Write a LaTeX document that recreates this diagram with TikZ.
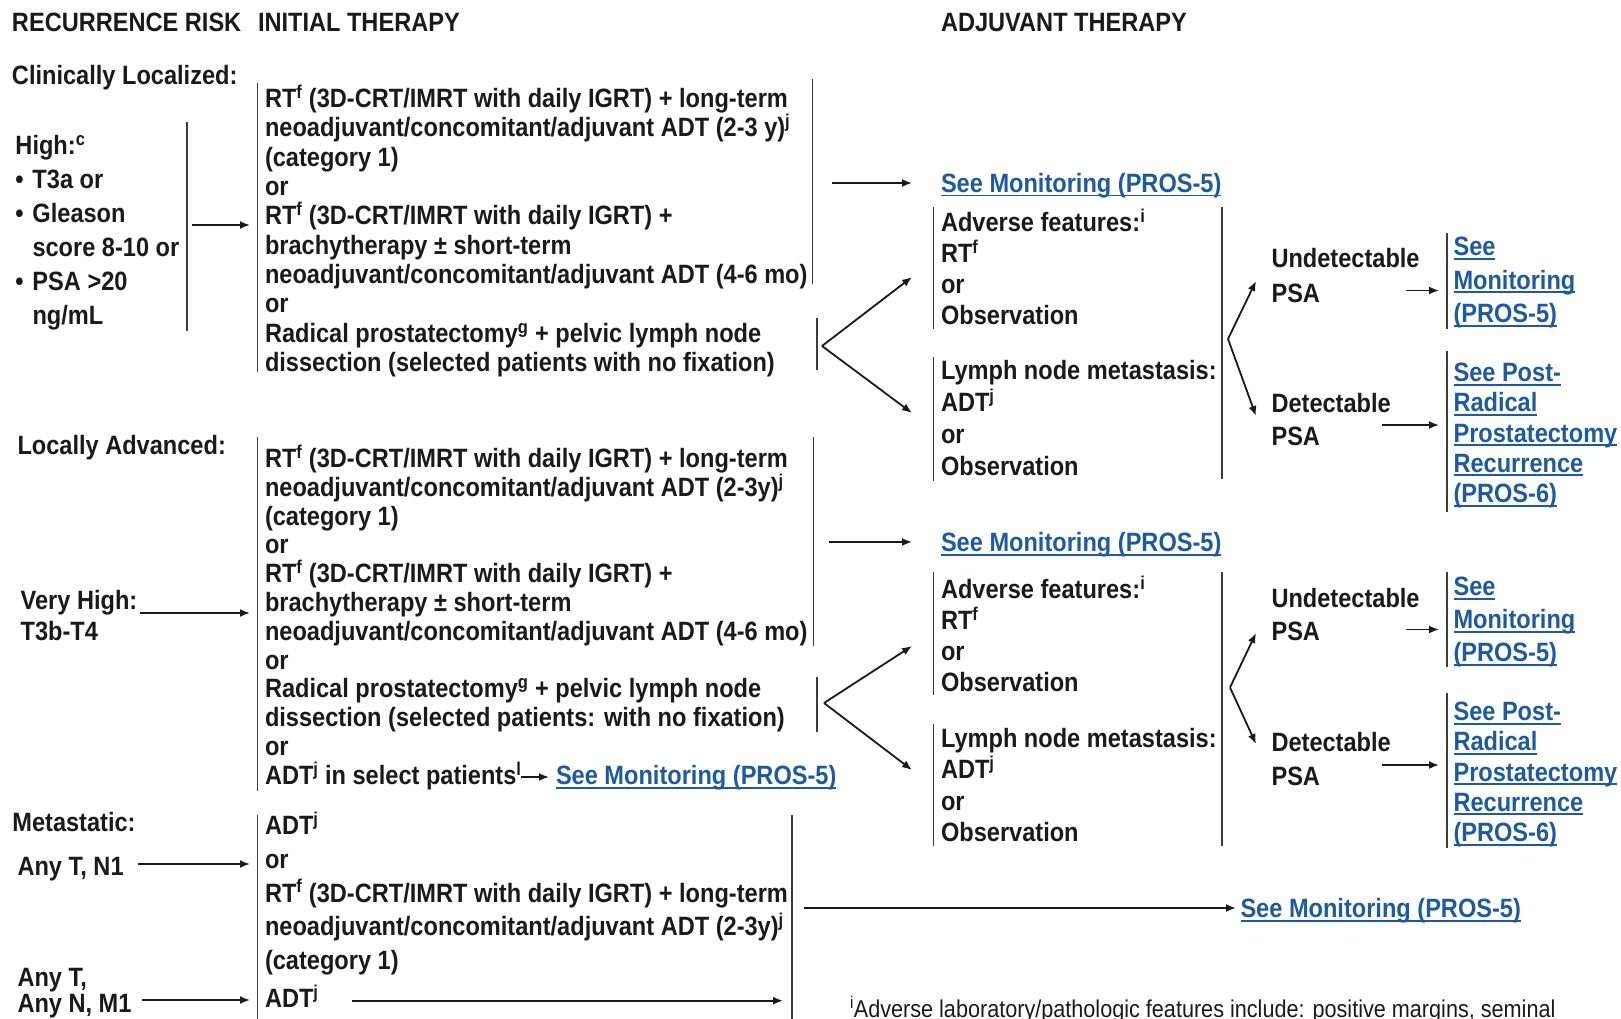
\documentclass[tikz,border=0pt]{standalone}
\usepackage{fontspec}
\setmainfont{Liberation Sans}[FakeStretch=0.89]
\usetikzlibrary{arrows.meta}
\definecolor{ink}{RGB}{26,26,26}
\definecolor{linkblue}{RGB}{30,90,160}
\newsavebox\lkbox
\newcommand\lk[1]{\textcolor{linkblue}{\sbox\lkbox{#1}\rlap{\rule[-4pt]{\wd\lkbox}{1.8pt}}\usebox\lkbox}}
\newcommand\ml[2]{\vtop{\let\\\cr\baselineskip=#1\relax\lineskiplimit=-100pt\lineskip=0pt\halign{##\hfil\cr#2\crcr}}}
\newcommand\bul{\hbox to 17pt{\textbullet\hfil}}
\begin{document}
\begin{tikzpicture}[x=1pt,y=-1pt,
  txt/.style={anchor=base west, inner sep=0pt, outer sep=0pt, yshift=-1pt, text=ink, font=\fontsize{26.5}{29.3}\selectfont\bfseries},
  hdr/.style={txt},
  note/.style={txt, font=\fontsize{24.3}{26}\selectfont\mdseries},
  bar/.style={draw=ink!85, line width=1.4pt},
  arr/.style={draw=ink, line width=1.8pt, -{Latex[length=10pt,width=8pt]}}]
\useasboundingbox (0,0) rectangle (1621,1019);
\clip (0,0) rectangle (1621,1019);
\fill[white] (0,0) rectangle (1621,1019);

% headers
\node[hdr] (h1) at (12,31) {RECURRENCE RISK};
\node[hdr] (h2) at (258,31) {INITIAL THERAPY};
\node[hdr] (h3) at (941,31) {ADJUVANT THERAPY};

% left column
\node[txt] (cl) at (12,84) {Clinically Localized:};
\node[txt] (high) at (15.5,153.5) {\ml{34pt}{High:\textsuperscript{c}\\\bul T3a or\\\bul Gleason\\\hspace*{17pt}score 8-10 or\\\bul PSA >20\\\hspace*{17pt}ng/mL}};
\node[txt] (la) at (17.5,453) {Locally Advanced:};
\node[txt] (vh) at (20.7,608.5) {\ml{31pt}{Very High:\\T3b-T4}};
\node[txt] (met) at (12.4,830.5) {Metastatic:};
\node[txt] (n1) at (17.5,874.5) {Any T, N1};
\node[txt] (m1) at (17.5,985.5) {\ml{26pt}{Any T,\\Any N, M1}};

% initial therapy
\node[txt] (t1) at (265,106.5) {\ml{29.33pt}{RT\textsuperscript{f} (3D-CRT/IMRT with daily IGRT) + long-term\\neoadjuvant/concomitant/adjuvant ADT (2-3 y)\textsuperscript{j}\\(category 1)\\or\\RT\textsuperscript{f} (3D-CRT/IMRT with daily IGRT) +\\brachytherapy ± short-term\\neoadjuvant/concomitant/adjuvant ADT (4-6 mo)\\or\\Radical prostatectomy\textsuperscript{g} + pelvic lymph node\\dissection (selected patients with no fixation)}};
\node[txt] (t2) at (265,466.5) {\ml{28.8pt}{RT\textsuperscript{f} (3D-CRT/IMRT with daily IGRT) + long-term\\neoadjuvant/concomitant/adjuvant ADT (2-3y)\textsuperscript{j}\\(category 1)\\or\\RT\textsuperscript{f} (3D-CRT/IMRT with daily IGRT) +\\brachytherapy ± short-term\\neoadjuvant/concomitant/adjuvant ADT (4-6 mo)\\or\\Radical prostatectomy\textsuperscript{g} + pelvic lymph node\\dissection (selected patients: with no fixation)\\or}};
\node[txt] (t2b) at (265,783.5) {ADT\textsuperscript{j} in select patients\textsuperscript{l}};
\node[txt] (lk2) at (556,783.5) {\lk{See Monitoring (PROS-5)}};
\node[txt] (t3) at (265,833.5) {\ml{33.75pt}{ADT\textsuperscript{j}\\or\\RT\textsuperscript{f} (3D-CRT/IMRT with daily IGRT) + long-term\\neoadjuvant/concomitant/adjuvant ADT (2-3y)\textsuperscript{j}\\(category 1)}};
\node[txt] (t4) at (265,1006.5) {ADT\textsuperscript{j}};

% adjuvant set 1
\node[txt] (mon1) at (941,191.5) {\lk{See Monitoring (PROS-5)}};
\node[txt] (adv1) at (941,230.5) {\ml{31pt}{Adverse features:\textsuperscript{i}\\RT\textsuperscript{f}\\or\\Observation}};
\node[txt] (lym1) at (941,378.5) {\ml{32pt}{Lymph node metastasis:\\ADT\textsuperscript{j}\\or\\Observation}};
\node[txt] (und1) at (1271.5,266.5) {\ml{34.5pt}{Undetectable\\PSA}};
\node[txt] (det1) at (1271.5,411.5) {\ml{33pt}{Detectable\\PSA}};
\node[txt] (smon1) at (1453.5,254.5) {\ml{33.5pt}{\lk{See}\\\lk{Monitoring}\\\lk{(PROS-5)}}};
\node[txt] (post1) at (1453.5,380.5) {\ml{30.25pt}{\lk{See Post-}\\\lk{Radical}\\\lk{Prostatectomy}\\\lk{Recurrence}\\\lk{(PROS-6)}}};

% adjuvant set 2
\node[txt] (mon2) at (941,550.5) {\lk{See Monitoring (PROS-5)}};
\node[txt] (adv2) at (941,597.5) {\ml{31pt}{Adverse features:\textsuperscript{i}\\RT\textsuperscript{f}\\or\\Observation}};
\node[txt] (lym2) at (941,746.5) {\ml{31.3pt}{Lymph node metastasis:\\ADT\textsuperscript{j}\\or\\Observation}};
\node[txt] (und2) at (1271.5,606) {\ml{33pt}{Undetectable\\PSA}};
\node[txt] (det2) at (1271.5,750.5) {\ml{34pt}{Detectable\\PSA}};
\node[txt] (smon2) at (1453.5,594.5) {\ml{33pt}{\lk{See}\\\lk{Monitoring}\\\lk{(PROS-5)}}};
\node[txt] (post2) at (1453.5,719.5) {\ml{30.25pt}{\lk{See Post-}\\\lk{Radical}\\\lk{Prostatectomy}\\\lk{Recurrence}\\\lk{(PROS-6)}}};

\node[txt] (mon3) at (1240.5,916.5) {\lk{See Monitoring (PROS-5)}};
\node[note] (fn) at (850,1016.5) {\textsuperscript{i}Adverse laboratory/pathologic features include: positive margins, seminal};

% bars
\draw[bar] (187,122) -- (187,331);
\draw[bar] (257.4,83) -- (257.4,372);
\draw[bar] (812.5,79) -- (812.5,284);
\draw[bar] (817,318) -- (817,370);
\draw[bar] (933.5,207) -- (933.5,329);
\draw[bar] (933.5,357) -- (933.5,481);
\draw[bar] (1222,207) -- (1222,479);
\draw[bar] (1447,233) -- (1447,329);
\draw[bar] (1447,351) -- (1447,512);
\draw[bar] (257.4,437) -- (257.4,791);
\draw[bar] (813.6,437) -- (813.6,646);
\draw[bar] (817,677) -- (817,732);
\draw[bar] (933.5,572) -- (933.5,695);
\draw[bar] (933.5,724) -- (933.5,846);
\draw[bar] (1222,572) -- (1222,846);
\draw[bar] (1447,572) -- (1447,667);
\draw[bar] (1447,693) -- (1447,848);
\draw[bar] (257.4,815) -- (257.4,1019);
\draw[bar] (792,815) -- (792,1019);

% connector end points
\coordinate (aH0) at (192,225);     \coordinate (aH1) at (250,225);
\coordinate (aM0) at (832,183);     \coordinate (aM1) at (912,183);
\coordinate (c1o) at (822,346);     \coordinate (c1a) at (912,277);  \coordinate (c1b) at (912,413);
\coordinate (c2o) at (1228,339);    \coordinate (c2a) at (1256,281); \coordinate (c2b) at (1256,416);
\coordinate (u1a) at (1406,290.5);  \coordinate (u1b) at (1439,290.5);
\coordinate (d1a) at (1382,425);    \coordinate (d1b) at (1439,425);
\coordinate (vh0) at (139.5,613);   \coordinate (vh1) at (250,613);
\coordinate (aM20) at (829,542);    \coordinate (aM21) at (912,542);
\coordinate (c3o) at (824,703);     \coordinate (c3a) at (912,646);  \coordinate (c3b) at (912,770);
\coordinate (c4o) at (1230,687.5);  \coordinate (c4a) at (1256,633); \coordinate (c4b) at (1256,744);
\coordinate (u2a) at (1406,629.5);  \coordinate (u2b) at (1439,629.5);
\coordinate (d2a) at (1382,765);    \coordinate (d2b) at (1439,765);
\coordinate (sa0) at (521,777);     \coordinate (sa1) at (549,777);
\coordinate (n10) at (137.5,864);   \coordinate (n11) at (250,864);
\coordinate (b30) at (804,908);     \coordinate (b31) at (1236,908);
\coordinate (m10) at (141.6,1000);  \coordinate (m11) at (250,1000);
\coordinate (t40) at (351.5,1000.7);\coordinate (t41) at (783,1000.7);

\draw[arr] (aH0) -- (aH1);
\draw[arr] (aM0) -- (aM1);
\draw[arr] (c1o) -- (c1a);
\draw[arr] (c1o) -- (c1b);
\draw[arr] (c2o) -- (c2a);
\draw[arr] (c2o) -- (c2b);
\draw[arr] (u1a) -- (u1b);
\draw[arr] (d1a) -- (d1b);
\draw[arr] (vh0) -- (vh1);
\draw[arr] (aM20) -- (aM21);
\draw[arr] (c3o) -- (c3a);
\draw[arr] (c3o) -- (c3b);
\draw[arr] (c4o) -- (c4a);
\draw[arr] (c4o) -- (c4b);
\draw[arr] (u2a) -- (u2b);
\draw[arr] (d2a) -- (d2b);
\draw[arr] (sa0) -- (sa1);
\draw[arr] (n10) -- (n11);
\draw[arr] (b30) -- (b31);
\draw[arr] (m10) -- (m11);
\draw[arr] (t40) -- (t41);
\end{tikzpicture}
\end{document}
